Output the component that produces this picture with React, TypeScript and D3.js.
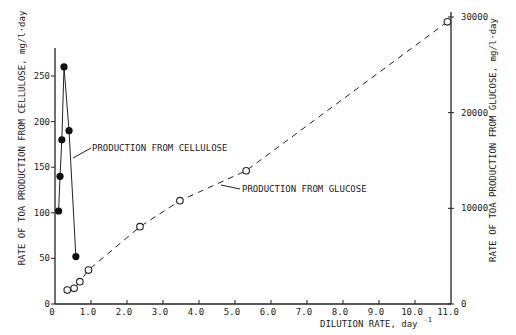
import React, { useEffect, useRef } from "react";
import * as d3 from "d3";

// dilution rate (day^-1) and TOA production rates
const cellDilution = [0.1, 0.14, 0.19, 0.25, 0.39, 0.58];
const cellRate = [102, 140, 180, 260, 190, 52];
const glucDilution = [0.34, 0.53, 0.69, 0.93, 2.36, 3.47, 5.31, 10.9];
const glucRate = [1460, 1640, 2330, 3550, 8080, 10800, 13930, 29500];

const xTicks = [0, 1, 2, 3, 4, 5, 6, 7, 8, 9, 10, 11];
const xTickLabels = ["0", "1.0", "2.0", "3.0", "4.0", "5.0", "6.0", "7.0", "8.0", "9.0", "10.0", "11.0"];
const leftTicks = [0, 50, 100, 150, 200, 250];
const rightTicks = [0, 10000, 20000, 30000];

const leftTitle = "RATE OF TOA PRODUCTION FROM CELLULOSE, mg/l\u00b7day";
const rightTitle = "RATE OF TOA PRODUCTION FROM GLUCOSE, mg/l\u00b7day";
const xTitle = "DILUTION RATE, day";
const cellLabel = "PRODUCTION FROM CELLULOSE";
const glucLabel = "PRODUCTION FROM GLUCOSE";

const FONT = "'DejaVu Sans Mono', monospace";
const INK = "#222";

export default function App() {
  const ref = useRef<SVGSVGElement>(null);

  useEffect(() => {
    const svg = d3.select(ref.current);
    svg.selectAll("*").remove();

    const x = d3.scaleLinear().domain([0, 11]).range([55, 451]);
    const yL = d3.scaleLinear().domain([0, 250]).range([304, 76]);
    const yR = d3.scaleLinear().domain([0, 30000]).range([304, 17]);

    const g = svg.append("g").attr("font-family", FONT).attr("font-size", 9).attr("fill", INK);

    // axes lines
    g.append("line").attr("x1", x(0)).attr("x2", x(0)).attr("y1", yL(0)).attr("y2", 48)
      .attr("stroke", INK).attr("stroke-width", 1.3);
    g.append("line").attr("x1", x(11)).attr("x2", x(11)).attr("y1", yR(0)).attr("y2", 12)
      .attr("stroke", INK).attr("stroke-width", 1.3);
    g.append("line").attr("x1", x(0)).attr("x2", x(11)).attr("y1", yL(0)).attr("y2", yL(0))
      .attr("stroke", INK).attr("stroke-width", 1.6);

    // x ticks
    xTicks.forEach((t, i) => {
      if (i > 0 && i < xTicks.length - 1) {
        g.append("line").attr("x1", x(t)).attr("x2", x(t)).attr("y1", yL(0)).attr("y2", yL(0) - 4)
          .attr("stroke", INK).attr("stroke-width", 1);
      }
      g.append("text").attr("x", x(t) - 3).attr("y", 315).attr("text-anchor", "middle")
        .text(xTickLabels[i]);
    });

    // left ticks
    leftTicks.forEach((t) => {
      g.append("line").attr("x1", x(0) - 4).attr("x2", x(0)).attr("y1", yL(t)).attr("y2", yL(t))
        .attr("stroke", INK).attr("stroke-width", 1);
      g.append("text").attr("x", 50).attr("y", yL(t) + 3).attr("text-anchor", "end").text(t);
    });

    // right ticks
    rightTicks.forEach((t) => {
      g.append("line").attr("x1", x(11) - 3).attr("x2", x(11) + 3).attr("y1", yR(t)).attr("y2", yR(t))
        .attr("stroke", INK).attr("stroke-width", 1);
      g.append("text").attr("x", 461).attr("y", yR(t) + 3).attr("text-anchor", "start").text(t);
    });

    // axis titles
    g.append("text").attr("transform", "translate(25,138) rotate(-90)").attr("text-anchor", "middle").text(leftTitle);
    g.append("text").attr("transform", "translate(496,140) rotate(-90)").attr("text-anchor", "middle").text(rightTitle);
    const xt = g.append("text").attr("x", 320).attr("y", 327);
    xt.append("tspan").text(xTitle);
    xt.append("tspan").attr("dx", 6).attr("dy", -5).attr("font-size", 7).text("-1");

    // glucose series (right axis)
    const glucPts = glucDilution.map((d, i) => [x(d), yR(glucRate[i])] as [number, number]);
    g.append("path").attr("d", d3.line()(glucPts)).attr("fill", "none").attr("stroke", INK)
      .attr("stroke-width", 1).attr("stroke-dasharray", "6,5");
    g.selectAll("circle.gluc").data(glucPts).enter().append("circle").attr("class", "gluc")
      .attr("cx", (d) => d[0]).attr("cy", (d) => d[1]).attr("r", 3.3)
      .attr("fill", "white").attr("stroke", INK).attr("stroke-width", 1.1);

    // cellulose series (left axis)
    const cellPts = cellDilution.map((d, i) => [x(d), yL(cellRate[i])] as [number, number]);
    g.append("path").attr("d", d3.line()(cellPts)).attr("fill", "none").attr("stroke", INK).attr("stroke-width", 1);
    g.selectAll("circle.cell").data(cellPts).enter().append("circle").attr("class", "cell")
      .attr("cx", (d) => d[0]).attr("cy", (d) => d[1]).attr("r", 3.6).attr("fill", "#111");

    // annotations
    g.append("line").attr("x1", 73).attr("y1", 158).attr("x2", 91).attr("y2", 148).attr("stroke", INK);
    g.append("text").attr("x", 92).attr("y", 151).text(cellLabel);
    g.append("line").attr("x1", 221).attr("y1", 185).attr("x2", 240).attr("y2", 189).attr("stroke", INK);
    g.append("text").attr("x", 242).attr("y", 192).text(glucLabel);
  }, []);

  return (
    <svg ref={ref} width={516} height={335}
      style={{ position: "absolute", left: 0, top: 0, background: "white" }} />
  );
}
